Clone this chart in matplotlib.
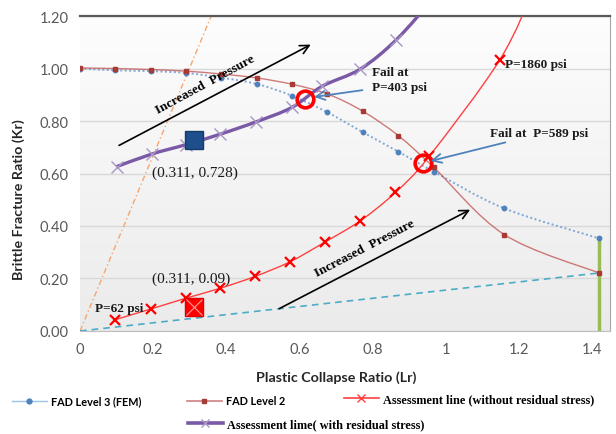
import numpy as np
import matplotlib
matplotlib.use('Agg')
import matplotlib.pyplot as plt
from matplotlib.path import Path
from matplotlib.patches import PathPatch
from matplotlib.lines import Line2D
from matplotlib.colors import LinearSegmentedColormap

# FAD curves (Lr, Kr)
fad_lr = [0, 0.097, 0.193, 0.29, 0.387, 0.484, 0.58, 0.677, 0.774, 0.871, 0.968, 1.161, 1.42]
fad3_kr = [1.0, 0.993, 0.99, 0.983, 0.965, 0.941, 0.896, 0.833, 0.757, 0.683, 0.607, 0.467, 0.353]
fad2_kr = [1.002, 1.0, 0.996, 0.99, 0.979, 0.964, 0.94, 0.903, 0.837, 0.744, 0.623, 0.367, 0.221]

# assessment line without residual stress
plain_lr = [0.096, 0.194, 0.29, 0.384, 0.479, 0.575, 0.669, 0.767, 0.863, 0.955, 1.148, 1.244]
plain_kr = [0.043, 0.084, 0.125, 0.163, 0.208, 0.264, 0.338, 0.42, 0.528, 0.665, 1.032, 1.31]

# assessment line with residual stress
resid_lr = [0.1, 0.196, 0.29, 0.384, 0.482, 0.58, 0.662, 0.767, 0.865, 0.962]
resid_kr = [0.626, 0.674, 0.71, 0.75, 0.797, 0.852, 0.932, 0.998, 1.109, 1.26]

# failure points and the two marked operating points
fail_lr = [0.615, 0.937]
fail_kr = [0.884, 0.64]
op_resid = (0.311, 0.728)
op_plain = (0.311, 0.09)

lr_cut = 1.42
load_line_lr = [0, 0.359]
load_line_kr = [0, 1.2]

sans = 'Lato'
serif = 'Liberation Serif'


def smooth_path(x, y):
    # cubic bezier through the points, like a spreadsheet "smoothed line"
    pts = np.column_stack([x, y]).astype(float)
    verts = [pts[0]]
    codes = [Path.MOVETO]
    n = len(pts)
    for i in range(n - 1):
        p0 = pts[i - 1] if i > 0 else pts[i]
        p1, p2 = pts[i], pts[i + 1]
        p3 = pts[i + 2] if i + 2 < n else pts[i + 1]
        verts += [p1 + (p2 - p0) / 6, p2 - (p3 - p1) / 6, p2]
        codes += [Path.CURVE4] * 3
    return Path(verts, codes)


fig = plt.figure(figsize=(6.16, 4.35), dpi=100)
ax = fig.add_axes([0.1299, 0.2368, 0.8604, 0.7241])

bg = LinearSegmentedColormap.from_list('bg', ['#fdfdfd', '#ebebeb'])
ax.imshow(np.linspace(0, 1, 256).reshape(-1, 1), extent=[0, 1, 0, 1], transform=ax.transAxes,
          cmap=bg, aspect='auto', zorder=0)

ax.set_xlim(0, 1.45)
ax.set_ylim(0, 1.2)
ax.set_yticks(np.arange(0, 1.21, 0.2))
ax.set_yticklabels(['%.2f' % v for v in np.arange(0, 1.21, 0.2)])
ax.set_xticks(np.arange(0, 1.41, 0.2))
ax.set_xticklabels(['0', '0.2', '0.4', '0.6', '0.8', '1', '1.2', '1.4'])
ax.tick_params(length=0, pad=8, labelsize=10.5, labelcolor='#595959')
for lab in ax.get_xticklabels() + ax.get_yticklabels():
    lab.set_family(sans)
ax.grid(axis='y', color='#d9d9d9', lw=1, zorder=1)
ax.set_axisbelow(True)
ax.spines['left'].set_visible(False)
ax.spines['bottom'].set_color('#bfbfbf')
ax.spines['top'].set_color('#595959')
ax.spines['top'].set_linewidth(1.6)
ax.spines['right'].set_color('#a6a6a6')

# reference lines
ax.plot(load_line_lr, load_line_kr, color='#f5a66e', lw=1, ls=(0, (4, 2, 1, 2)), zorder=2)
ax.plot([0, fad_lr[-1]], [0, fad2_kr[-1]], color='#4bacc6', lw=1.2, ls=(0, (4, 3)), zorder=2)
ax.plot([lr_cut, lr_cut], [0, fad3_kr[-1]], color='#9bbb59', lw=2.5, zorder=3)

# FAD curves
ax.add_patch(PathPatch(smooth_path(fad_lr, fad3_kr), fill=False, ec='#7fa7d6', lw=1.4,
                       ls=(0, (1, 1.3)), zorder=3))
ax.plot(fad_lr, fad3_kr, ls='none', marker='o', ms=3.2, color='#4f81bd', zorder=4)
ax.add_patch(PathPatch(smooth_path(fad_lr, fad2_kr), fill=False, ec='#c0504d', lw=1, alpha=0.75, zorder=3))
ax.plot(fad_lr, fad2_kr, ls='none', marker='s', ms=3.2, color='#a83a36', zorder=4)

# assessment lines
ax.add_patch(PathPatch(smooth_path(plain_lr, plain_kr), fill=False, ec='#ff4040', lw=1, zorder=5))
ax.plot(plain_lr, plain_kr, ls='none', marker='x', ms=7, mew=1.6, color='#ff0000', zorder=6)
ax.add_patch(PathPatch(smooth_path(resid_lr, resid_kr), fill=False, ec='#7a5aa6', lw=2.4, zorder=5))
ax.plot(resid_lr, resid_kr, ls='none', marker='x', ms=9, mew=1, color='#a896c4', zorder=6)

# operating points
ax.plot(*op_resid, marker='s', ms=13, color='#1f4e8c', mec='#163a68', zorder=7)
ax.plot(*op_plain, marker='s', ms=13, color='#ff0000', mec='#e00000', zorder=7)
ax.plot(*op_plain, marker='x', ms=12, mew=0.8, color='#ff9a9a', zorder=8)

# failure points
ax.plot(fail_lr, fail_kr, ls='none', marker='o', ms=12, mfc='none', mec='#ff0000', mew=2.6, zorder=9)

# arrows
black_arrow = dict(arrowstyle='->', color='black', lw=1.2, mutation_scale=16)
ax.annotate('', xy=(0.638, 1.096), xytext=(0.1, 0.702), arrowprops=black_arrow, zorder=8)
ax.annotate('', xy=(1.074, 0.467), xytext=(0.538, 0.08), arrowprops=black_arrow, zorder=8)
blue_arrow = dict(arrowstyle='->', color='#4f81bd', lw=1.3, mutation_scale=16)
ax.annotate('', xy=(fail_lr[0] + 0.018, fail_kr[0] + 0.006), xytext=(0.78, 0.919), arrowprops=blue_arrow, zorder=10)
ax.annotate('', xy=(fail_lr[1] + 0.015, fail_kr[1] + 0.005), xytext=(1.171, 0.721), arrowprops=blue_arrow, zorder=10)

# annotations
ann = dict(family=serif, fontweight='bold', fontsize=9.5, color='#1a1a1a', zorder=10)
ax.text(0.798, 0.958, 'Fail at\nP=403 psi', ha='left', va='center', linespacing=1.3, **ann)
ax.text(1.121, 0.754, 'Fail at  P=589 psi', ha='left', va='center', **ann)
ax.text(1.162, 1.017, 'P=1860 psi', ha='left', va='center', **ann)
ax.text(0.106, 0.086, 'P=62 psi', ha='center', va='center', **ann)
ax.text(0.304, 0.2, '(%.3f, %.2f)' % op_plain, ha='center', va='center',
        family=serif, fontsize=11, color='#1a1a1a', zorder=10)
ax.text(0.315, 0.604, '(%.3f, %.3f)' % op_resid, ha='center', va='center',
        family=serif, fontsize=11, color='#1a1a1a', zorder=10)
ax.text(0.342, 0.941, 'Increased  Pressure', rotation=28.5, ha='center', va='center',
        family=serif, fontweight='bold', fontsize=9.5, zorder=10)
ax.text(0.779, 0.316, 'Increased  Pressure', rotation=27.5, ha='center', va='center',
        family=serif, fontweight='bold', fontsize=9.5, zorder=10)

# axis titles
fig.text(336 / 616, 1 - 378 / 435, 'Plastic Collapse Ratio (Lr)', ha='center', va='center',
         family=sans, fontweight='bold', fontsize=10.3, color='#262626')
fig.text(19 / 616, 1 - 200 / 435, 'Brittle Fracture Ratio (Kr)', ha='center', va='center',
         rotation=90, family=sans, fontweight='bold', fontsize=10.3, color='#262626')

# legend, one entry per box so each sits where it should
entries = [
    (Line2D([], [], color='#9dc3e6', lw=1, marker='o', ms=3.5, mfc='#4f81bd', mec='#4f81bd'),
     'FAD Level 3 (FEM)', 12, 402, sans, 7.8),
    (Line2D([], [], color='#d08080', lw=1.2, marker='s', ms=3.5, mfc='#a83a36', mec='#a83a36'),
     'FAD Level 2', 187, 402, sans, 7.8),
    (Line2D([], [], color='#ff4040', lw=1.2, marker='x', ms=6, mew=1, mec='#ff4040'),
     'Assessment line (without residual stress)', 344, 400, serif, 8.8),
    (Line2D([], [], color='#7a5aa6', lw=2.6, marker='x', ms=6, mew=1, mec='#a896c4'),
     'Assessment lime( with residual stress)', 188, 425, serif, 8.8),
]
for handle, label, px, py, fam, size in entries:
    fig.legend([handle], [label], loc='center left', bbox_to_anchor=(px / 616, 1 - py / 435),
               frameon=False, borderpad=0, borderaxespad=0, handlelength=35 / (size * 1.389),
               handletextpad=0.35, prop=dict(family=fam, weight='bold', size=size))

fig.savefig('out.png', dpi=100)
